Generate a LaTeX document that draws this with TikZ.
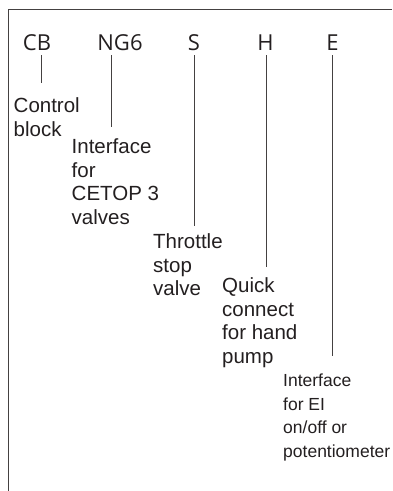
\documentclass[tikz,border=0pt]{standalone}
\usepackage{fontspec}
\setmainfont{Liberation Sans}
\newfontfamily\codefont{Open Sans}
\definecolor{ink}{HTML}{231F20}
\begin{document}
\begin{tikzpicture}[x=1pt,y=-1pt,
  code/.style={font=\codefont\fontsize{22}{26}\selectfont, text=ink, anchor=base, inner sep=0pt},
  lbl/.style={font=\fontsize{20.5}{23.5}\selectfont, text=ink, anchor=north west, align=left, inner sep=0pt},
  slbl/.style={font=\fontsize{17.5}{23.7}\selectfont, text=ink, anchor=north west, align=left, inner sep=0pt},
  lead/.style={draw=ink!85, line width=0.9pt},
  frame/.style={draw=ink!85, line width=1pt}]
\useasboundingbox (0,0) rectangle (392,491);
\draw[frame] (392,9) -- (8,9) -- (8,491);
% codes
\node[code] (cb) at (37,50) {CB};
\node[code] (ng) at (120,50) {NG6};
\node[code] (s) at (194,50) {S};
\node[code] (h) at (265.5,50) {H};
\node[code] (e) at (332.5,50) {E};
% leader ends
\coordinate (cbt) at (41.5,55);
\coordinate (ngt) at (111,55);
\coordinate (st) at (194.7,55);
\coordinate (ht) at (266,55);
\coordinate (et) at (332,55);
\coordinate (cbb) at (41.5,83);
\coordinate (ngb) at (111,127);
\coordinate (sb) at (194.7,226);
\coordinate (hb) at (266,267);
\coordinate (eb) at (332,356);
\draw[lead] (cbt) -- (cbb);
\draw[lead] (ngt) -- (ngb);
\draw[lead] (st) -- (sb);
\draw[lead] (ht) -- (hb);
\draw[lead] (et) -- (eb);
% labels
\node[lbl] (lcb) at (13.5,97.5) {Control\\block};
\node[lbl] (lng) at (71.5,138.5) {Interface\\for\\CETOP 3\\valves};
\node[lbl] (ls) at (153,233.5) {Throttle\\stop\\valve};
\node[lbl] (lh) at (222,277.5) {Quick\\connect\\for hand\\pump};
\node[slbl] (le) at (283,373.5) {Interface\\for EI\\on/off or\\potentiometer};
\end{tikzpicture}
\end{document}
